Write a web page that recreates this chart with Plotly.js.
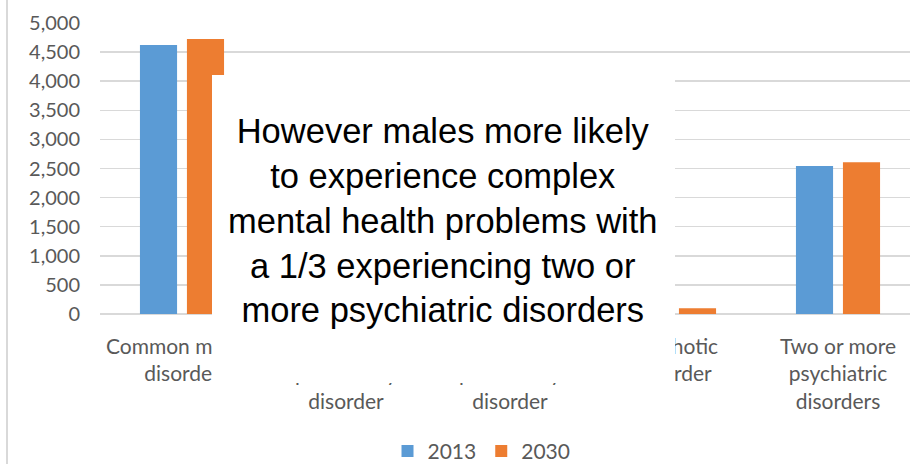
<!DOCTYPE html>
<html>
<head>
<meta charset="utf-8">
<script src="https://cdn.plot.ly/plotly-3.0.1.min.js"></script>
<style>
  html, body { margin: 0; padding: 0; background: #ffffff; }
  #chart { width: 911px; height: 464px; }
</style>
</head>
<body>
<div id="chart"></div>
<script>
// Data (middle categories are hidden by the text box and estimated)
const categories = [
  "Common mental<br>disorder",
  "Antisocial<br>personality<br>disorder",
  "Borderline<br>personality<br>disorder",
  "Psychotic<br>disorder",
  "Two or more<br>psychiatric<br>disorders"
];
const seriesNames = ["2013", "2030"];
const values2013 = [4622, 380, 280, 90, 2543];
const values2030 = [4725, 390, 290, 98, 2606];
const yTickValues = [0, 500, 1000, 1500, 2000, 2500, 3000, 3500, 4000, 4500, 5000];
const calloutLines = [
  "However males more likely",
  "to experience complex",
  "mental health problems with",
  "a 1/3 experiencing two or",
  "more psychiatric disorders"
];

const fontFamily = "Lato, 'Open Sans', sans-serif";
const yTickFont = { family: fontFamily, size: 20, color: "#595959" };
const xTickFont = { family: fontFamily, size: 21, color: "#595959" };
const legendFont = { family: fontFamily, size: 21, color: "#595959" };

const traces = [
  { type: "bar", name: seriesNames[0], x: categories, y: values2013,
    marker: { color: "#5b9bd5" }, hoverinfo: "none" },
  { type: "bar", name: seriesNames[1], x: categories, y: values2030,
    marker: { color: "#ed7d31" }, hoverinfo: "none" }
];

const layout = {
  width: 911, height: 464,
  margin: { l: 100, r: 1, t: 23, b: 150, autoexpand: false },
  paper_bgcolor: "#ffffff", plot_bgcolor: "#ffffff",
  barmode: "group", bargap: 0.427, bargroupgap: 0.21,
  showlegend: true,
  legend: {
    orientation: "h", x: 0.471, xanchor: "center", y: -0.472, yanchor: "middle",
    font: legendFont, bgcolor: "rgba(0,0,0,0)", traceorder: "normal"
  },
  xaxis: {
    type: "category", range: [-0.5, 4.439], tickfont: xTickFont, automargin: false,
    showgrid: false, showline: false, ticks: "", ticklabelstandoff: 18,
    fixedrange: true
  },
  yaxis: {
    range: [0, 5000], tickvals: yTickValues, tickformat: ",d", tickfont: yTickFont,
    automargin: false,
    showgrid: true, gridcolor: "#d9d9d9", gridwidth: 1.5,
    zeroline: true, zerolinecolor: "#d9d9d9", zerolinewidth: 1.5,
    showline: false, ticks: "", ticklabelstandoff: 19, fixedrange: true
  },
  shapes: [
    { type: "line", xref: "paper", yref: "paper",
      x0: -0.1148, x1: -0.1148, y0: 1.09, y1: -0.53,
      line: { color: "#d9d9d9", width: 2 } }
  ],
  annotations: [
    { xref: "paper", yref: "paper", x: 0.424, y: 0.292, xanchor: "center", yanchor: "middle",
      text: " ", showarrow: false, width: 463, height: 308, bgcolor: "#ffffff",
      borderpad: 0, borderwidth: 0 },
    { xref: "paper", yref: "paper", x: 0.424, y: 0.32, xanchor: "center", yanchor: "middle",
      text: calloutLines.join("<br>"), showarrow: false, align: "center",
      font: { family: "'Liberation Sans', Arial, sans-serif", size: 34.5, color: "#000000" } }
  ]
};

Plotly.newPlot("chart", traces, layout, { displayModeBar: false, staticPlot: true });
</script>
</body>
</html>
